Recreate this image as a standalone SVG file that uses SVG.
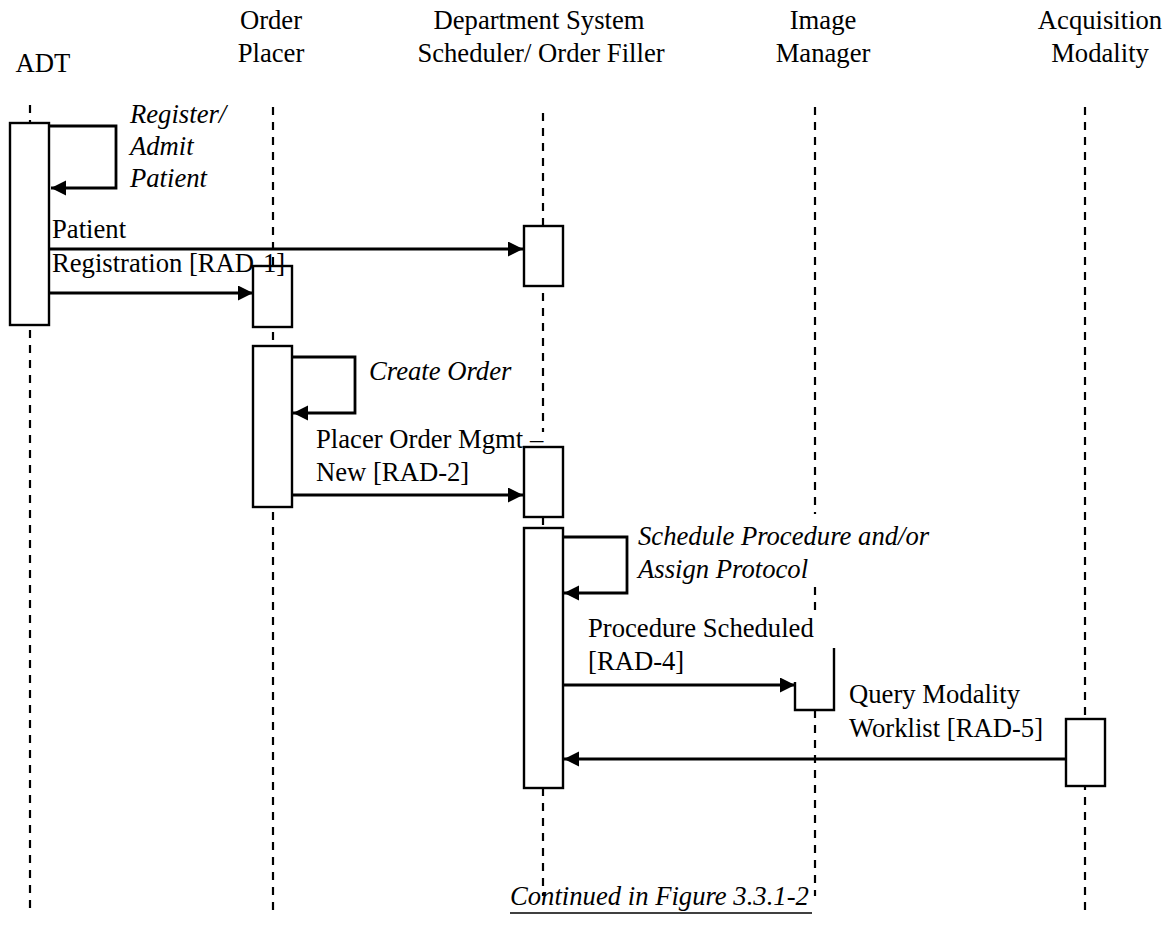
<svg xmlns="http://www.w3.org/2000/svg" width="1167" height="938" viewBox="0 0 1167 938" font-family="'Liberation Serif', 'DejaVu Serif', serif">
<style>
text{font-family:'Liberation Serif','DejaVu Serif',serif;font-size:26.67px;fill:#000}
.it{font-style:italic}
.hd{text-anchor:middle}
.life{stroke:#000;stroke-width:2.2;stroke-dasharray:8 7;fill:none}
.act{fill:#fff;stroke:#000;stroke-width:2.4}
.msg{fill:none;stroke:#000;stroke-width:2.8}
</style>
<defs>
<marker id="ah" markerUnits="userSpaceOnUse" markerWidth="17" markerHeight="17" refX="15" refY="7.5" orient="auto">
<path d="M0,0 L15,7.5 L0,15 z" fill="#000"/>
</marker>
</defs>
<rect width="1167" height="938" fill="#fff"/>
<g id="adt">
<text class="hd" x="43" y="72">ADT</text>
<line class="life" x1="30" y1="105" x2="30" y2="910"/>
<rect class="act" x="10" y="123" width="39" height="202"/>
</g>
<g id="order-placer">
<text class="hd" x="271" y="29">Order</text>
<text class="hd" x="271" y="62">Placer</text>
<line class="life" x1="273" y1="107" x2="273" y2="912"/>
<rect class="act" x="253" y="266" width="39" height="61"/>
<rect class="act" x="253" y="346" width="39" height="161"/>
</g>
<g id="dept-system">
<text class="hd" x="539" y="29">Department System</text>
<text class="hd" x="541" y="62">Scheduler/ Order Filler</text>
<line class="life" x1="543" y1="113" x2="543" y2="432"/>
<line class="life" x1="543" y1="517" x2="543" y2="528"/>
<line class="life" x1="543" y1="788" x2="543" y2="896"/>
<rect class="act" x="524" y="226" width="39" height="60"/>
<rect class="act" x="524" y="447" width="39" height="70"/>
<rect class="act" x="524" y="528" width="39" height="260"/>
</g>
<g id="image-manager">
<text class="hd" x="823" y="29">Image</text>
<text class="hd" x="823" y="62">Manager</text>
<line class="life" x1="815" y1="107" x2="815" y2="514"/>
<line class="life" x1="815" y1="587" x2="815" y2="612"/>
<line class="life" x1="815" y1="710" x2="815" y2="896"/>
<path class="act" d="M834,648 V710 H795 V682"/>
</g>
<g id="acquisition-modality">
<text class="hd" x="1100" y="29">Acquisition</text>
<text class="hd" x="1100" y="62">Modality</text>
<line class="life" x1="1085" y1="107" x2="1085" y2="912"/>
<rect class="act" x="1066" y="719" width="39" height="67"/>
</g>
<g id="connectors">
<path class="msg" d="M49,126 H116 V188 H51" marker-end="url(#ah)"/>
<path class="msg" d="M49,249 H523" marker-end="url(#ah)"/>
<path class="msg" d="M49,293 H253" marker-end="url(#ah)"/>
<path class="msg" d="M292,357 H355 V413 H293" marker-end="url(#ah)"/>
<path class="msg" d="M292,495 H523" marker-end="url(#ah)"/>
<path class="msg" d="M563,537 H627 V593 H564" marker-end="url(#ah)"/>
<path class="msg" d="M563,685 H795" marker-end="url(#ah)"/>
<path class="msg" d="M1066,759 H564" marker-end="url(#ah)"/>
</g>
<g id="labels">
<text class="it" x="130" y="123">Register/</text>
<text class="it" x="130" y="155">Admit</text>
<text class="it" x="130" y="187">Patient</text>
<text x="52" y="238">Patient</text>
<text x="52" y="272">Registration [RAD-1]</text>
<text class="it" x="369" y="380">Create Order</text>
<text x="316" y="448">Placer Order Mgmt –</text>
<text x="316" y="481">New [RAD-2]</text>
<text class="it" x="638" y="545">Schedule Procedure and/or</text>
<text class="it" x="638" y="578">Assign Protocol</text>
<text x="588" y="637">Procedure Scheduled</text>
<text x="588" y="670">[RAD-4]</text>
<text x="849" y="703">Query Modality</text>
<text x="849" y="737">Worklist [RAD-5]</text>
<text class="it" x="510" y="905">Continued in Figure 3.3.1-2</text>
<line x1="510" y1="913" x2="812" y2="913" stroke="#000" stroke-width="1.5"/>
</g>
</svg>
